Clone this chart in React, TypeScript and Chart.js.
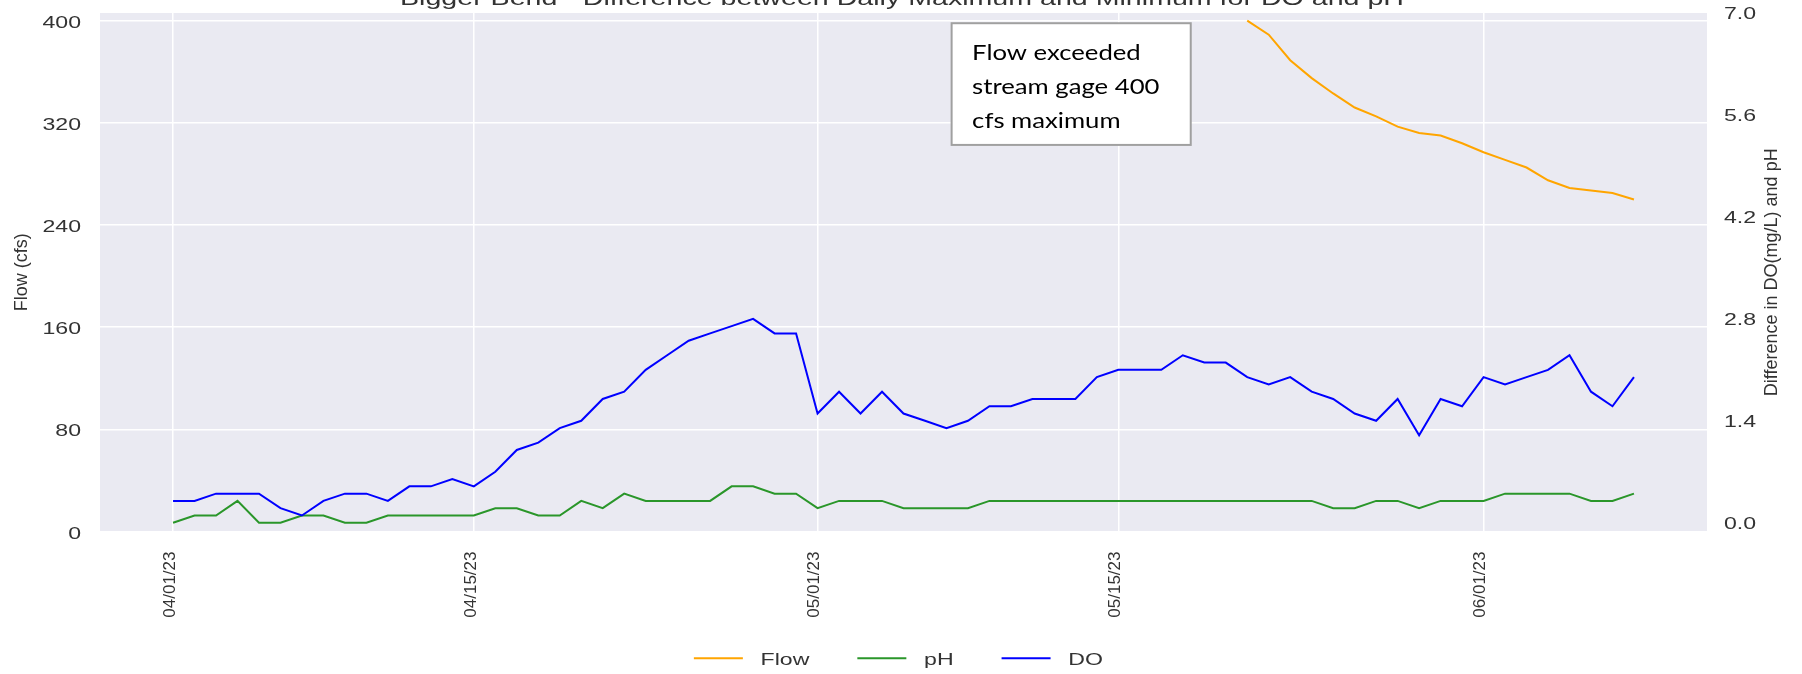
import React, { useEffect, useRef } from 'react';
import { Chart, registerables } from 'chart.js';

Chart.register(...registerables);

// ---------------- data ----------------
const TITLE = 'Bigger Bend - Difference between Daily Maximum and Minimum for DO and pH';
const FLOW_LABEL = 'Flow (cfs)';
const DIFF_LABEL = 'Difference in DO(mg/L) and pH';
const noteLines = ['Flow exceeded', 'stream gage 400', 'cfs maximum'];

const dates = [
  '04/01/23', '04/02/23', '04/03/23', '04/04/23', '04/05/23', '04/06/23', '04/07/23', '04/08/23', '04/09/23', '04/10/23',
  '04/11/23', '04/12/23', '04/13/23', '04/14/23', '04/15/23', '04/16/23', '04/17/23', '04/18/23', '04/19/23', '04/20/23',
  '04/21/23', '04/22/23', '04/23/23', '04/24/23', '04/25/23', '04/26/23', '04/27/23', '04/28/23', '04/29/23', '04/30/23',
  '05/01/23', '05/02/23', '05/03/23', '05/04/23', '05/05/23', '05/06/23', '05/07/23', '05/08/23', '05/09/23', '05/10/23',
  '05/11/23', '05/12/23', '05/13/23', '05/14/23', '05/15/23', '05/16/23', '05/17/23', '05/18/23', '05/19/23', '05/20/23',
  '05/21/23', '05/22/23', '05/23/23', '05/24/23', '05/25/23', '05/26/23', '05/27/23', '05/28/23', '05/29/23', '05/30/23',
  '05/31/23', '06/01/23', '06/02/23', '06/03/23', '06/04/23', '06/05/23', '06/06/23', '06/07/23', '06/08/23',
];

const tickDates = ['04/01/23', '04/15/23', '05/01/23', '05/15/23', '06/01/23'];

// flow above the 400 cfs gage maximum is missing
const flowValues = [
  null, null, null, null, null, null, null, null, null, null,
  null, null, null, null, null, null, null, null, null, null,
  null, null, null, null, null, null, null, null, null, null,
  null, null, null, null, null, null, null, null, null, null,
  null, null, null, null, null, null, null, null, null, null,
  400, 389, 369, 355, 343, 332, 325, 317, 312, 310,
  304, 297, 291, 285, 275, 269, 267, 265, 260,
];

const phValues = [
  0.0, 0.1, 0.1, 0.3, 0.0, 0.0, 0.1, 0.1, 0.0, 0.0,
  0.1, 0.1, 0.1, 0.1, 0.1, 0.2, 0.2, 0.1, 0.1, 0.3,
  0.2, 0.4, 0.3, 0.3, 0.3, 0.3, 0.5, 0.5, 0.4, 0.4,
  0.2, 0.3, 0.3, 0.3, 0.2, 0.2, 0.2, 0.2, 0.3, 0.3,
  0.3, 0.3, 0.3, 0.3, 0.3, 0.3, 0.3, 0.3, 0.3, 0.3,
  0.3, 0.3, 0.3, 0.3, 0.2, 0.2, 0.3, 0.3, 0.2, 0.3,
  0.3, 0.3, 0.4, 0.4, 0.4, 0.4, 0.3, 0.3, 0.4,
];

const doValues = [
  0.3, 0.3, 0.4, 0.4, 0.4, 0.2, 0.1, 0.3, 0.4, 0.4,
  0.3, 0.5, 0.5, 0.6, 0.5, 0.7, 1.0, 1.1, 1.3, 1.4,
  1.7, 1.8, 2.1, 2.3, 2.5, 2.6, 2.7, 2.8, 2.6, 2.6,
  1.5, 1.8, 1.5, 1.8, 1.5, 1.4, 1.3, 1.4, 1.6, 1.6,
  1.7, 1.7, 1.7, 2.0, 2.1, 2.1, 2.1, 2.3, 2.2, 2.2,
  2.0, 1.9, 2.0, 1.8, 1.7, 1.5, 1.4, 1.7, 1.2, 1.7,
  1.6, 2.0, 1.9, 2.0, 2.1, 2.3, 1.8, 1.6, 2.0,
];

const flowTicks = [0, 80, 160, 240, 320, 400];
const diffTicks = [0, 1.4, 2.8, 4.2, 5.6, 7.0];
const flowRange = [0, 406];
const diffRange = [-0.12, 7.0];

// annotation anchor (in data units: days since first date, flow cfs)
const noteBox = { fromDay: 36.24, toDay: 47.37, topFlow: 398, bottomFlow: 302.7 };

// ---------------- style ----------------
const W = 1802;
const H = 674;
const FONT = '"Liberation Sans", Arial, Helvetica, sans-serif';
const NOTE_FONT = 'Lato, "Open Sans", sans-serif';
const TEXT_COLOR = '#333333';
const PLOT_BG = '#EAEAF2';
const SX = 1.4; // horizontal stretch of upright text in the reference

const COLORS = { flow: '#FFA500', ph: '#2a962a', do: '#0000FF' };

function toDay(s: string): number {
  const [m, d, y] = s.split('/').map(Number);
  const [m0, d0, y0] = dates[0].split('/').map(Number);
  return Math.round((Date.UTC(2000 + y, m - 1, d) - Date.UTC(2000 + y0, m0 - 1, d0)) / 86400000);
}

function drawStretched(ctx: CanvasRenderingContext2D, text: string, x: number, y: number, align: CanvasTextAlign, sx: number) {
  ctx.save();
  ctx.translate(x, y);
  ctx.scale(sx, 1);
  ctx.textAlign = align;
  ctx.fillText(text, 0, 0);
  ctx.restore();
}

const bgPlugin = {
  id: 'plotBg',
  beforeDraw(chart: any) {
    const { ctx, chartArea: a } = chart;
    ctx.save();
    ctx.fillStyle = '#ffffff';
    ctx.fillRect(0, 0, chart.width, chart.height);
    ctx.fillStyle = PLOT_BG;
    ctx.fillRect(a.left, a.top, a.right - a.left, a.bottom - a.top);
    ctx.restore();
  },
};

const textPlugin = {
  id: 'refText',
  afterDraw(chart: any) {
    const ctx: CanvasRenderingContext2D = chart.ctx;
    const a = chart.chartArea;
    const xS = chart.scales.x;
    const yS = chart.scales.y;
    const y2S = chart.scales.y2;
    const midY = (a.top + a.bottom) / 2;
    ctx.save();
    ctx.fillStyle = TEXT_COLOR;
    ctx.textBaseline = 'alphabetic';

    // y tick labels
    ctx.font = `16.5px ${FONT}`;
    yS.ticks.forEach((t: any) => {
      drawStretched(ctx, String(t.value), a.left - 19, yS.getPixelForValue(t.value) + 7, 'right', SX);
    });
    y2S.ticks.forEach((t: any) => {
      drawStretched(ctx, Number(t.value).toFixed(1), a.right + 17, y2S.getPixelForValue(t.value) + 6, 'left', SX);
    });

    // axis titles (bottom-to-top)
    ctx.font = `18px ${FONT}`;
    ctx.textAlign = 'center';
    ctx.save();
    ctx.translate(a.left - 73.5, midY);
    ctx.rotate(-Math.PI / 2);
    ctx.fillText(FLOW_LABEL, 0, 0);
    ctx.restore();
    ctx.save();
    ctx.translate(a.right + 69.5, midY);
    ctx.rotate(-Math.PI / 2);
    ctx.fillText(DIFF_LABEL, 0, 0);
    ctx.restore();

    // title (cut off by the top of the picture)
    ctx.font = `19.5px ${FONT}`;
    const tw = ctx.measureText(TITLE).width;
    drawStretched(ctx, TITLE, (a.left + a.right) / 2 - 1.5, 5, 'center', 1004 / tw);

    // legend
    ctx.font = `16.5px ${FONT}`;
    const lineLen = 49;
    const gap = 17.7;
    const itemGap = 48;
    const items = chart.data.datasets.map((ds: any) => ({
      label: ds.label,
      color: ds.borderColor,
      w: ctx.measureText(ds.label).width * SX,
    }));
    const total = items.reduce((s: number, it: any) => s + lineLen + gap + it.w, 0) + itemGap * (items.length - 1);
    let cx = 898.4 - total / 2;
    const ly = a.bottom + 126.8;
    items.forEach((it: any) => {
      ctx.strokeStyle = it.color;
      ctx.lineWidth = 2;
      ctx.beginPath();
      ctx.moveTo(cx, ly);
      ctx.lineTo(cx + lineLen, ly);
      ctx.stroke();
      ctx.fillStyle = TEXT_COLOR;
      drawStretched(ctx, it.label, cx + lineLen + gap, ly + 6.7, 'left', SX);
      cx += lineLen + gap + it.w + itemGap;
    });

    // annotation box
    const bx0 = xS.getPixelForValue(noteBox.fromDay);
    const bx1 = xS.getPixelForValue(noteBox.toDay);
    const by0 = yS.getPixelForValue(noteBox.topFlow);
    const by1 = yS.getPixelForValue(noteBox.bottomFlow);
    ctx.fillStyle = '#ffffff';
    ctx.fillRect(bx0, by0, bx1 - bx0, by1 - by0);
    ctx.strokeStyle = '#a0a0a0';
    ctx.lineWidth = 2;
    ctx.strokeRect(bx0, by0, bx1 - bx0, by1 - by0);
    ctx.fillStyle = '#000000';
    ctx.font = `21px ${NOTE_FONT}`;
    const nsx = 168.6 / ctx.measureText(noteLines[0]).width;
    noteLines.forEach((line, i) => {
      drawStretched(ctx, line, bx0 + 20.5, by0 + 36.7 + i * 34, 'left', nsx);
    });

    ctx.restore();
  },
};

export default function App() {
  const ref = useRef<HTMLCanvasElement | null>(null);

  useEffect(() => {
    document.body.style.margin = '0';
    const canvas = ref.current;
    if (!canvas) return;
    const days = dates.map(toDay);
    const span = days[days.length - 1] - days[0];
    const tickDays = tickDates.map(toDay);
    const mk = (vals: (number | null)[]) => vals.map((v, i) => ({ x: days[i], y: v }));

    const chart = new Chart(canvas, {
      type: 'line',
      data: {
        datasets: [
          { label: 'Flow', data: mk(flowValues), yAxisID: 'y', borderColor: COLORS.flow, backgroundColor: COLORS.flow, borderWidth: 2, pointRadius: 0, tension: 0, order: 3 },
          { label: 'pH', data: mk(phValues), yAxisID: 'y2', borderColor: COLORS.ph, backgroundColor: COLORS.ph, borderWidth: 2, pointRadius: 0, tension: 0, order: 2 },
          { label: 'DO', data: mk(doValues), yAxisID: 'y2', borderColor: COLORS.do, backgroundColor: COLORS.do, borderWidth: 2, pointRadius: 0, tension: 0, order: 1 },
        ],
      } as any,
      options: {
        animation: false,
        responsive: false,
        devicePixelRatio: 1,
        events: [],
        layout: { padding: { top: 13, left: 0, right: 0, bottom: 0 } },
        plugins: { legend: { display: false }, title: { display: false }, tooltip: { enabled: false } },
        scales: {
          x: {
            type: 'linear',
            min: days[0] - 0.05 * span,
            max: days[days.length - 1] + 0.05 * span,
            afterBuildTicks: (s: any) => { s.ticks = tickDays.map((v) => ({ value: v })); },
            afterFit: (s: any) => { s.height = H - 531.5; },
            ticks: {
              autoSkip: false,
              minRotation: 90,
              maxRotation: 90,
              padding: 20,
              labelOffset: -3,
              color: TEXT_COLOR,
              font: { family: FONT, size: 17 },
              callback: (_v: any, i: number) => tickDates[i],
            },
            grid: { color: '#ffffff', lineWidth: 1.5, drawTicks: false },
            border: { display: false },
          },
          y: {
            type: 'linear',
            position: 'left',
            min: flowRange[0],
            max: flowRange[1],
            afterBuildTicks: (s: any) => { s.ticks = flowTicks.map((v) => ({ value: v })); },
            afterFit: (s: any) => { s.width = 100; },
            ticks: { display: false },
            grid: { color: '#ffffff', lineWidth: 1.5, drawTicks: false },
            border: { display: false },
          },
          y2: {
            type: 'linear',
            position: 'right',
            min: diffRange[0],
            max: diffRange[1],
            afterBuildTicks: (s: any) => { s.ticks = diffTicks.map((v) => ({ value: v })); },
            afterFit: (s: any) => { s.width = W - 1707; },
            ticks: { display: false },
            grid: { display: false, drawTicks: false },
            border: { display: false },
          },
        },
      } as any,
      plugins: [bgPlugin, textPlugin],
    });

    let alive = true;
    if ((document as any).fonts && (document as any).fonts.load) {
      Promise.all([
        (document as any).fonts.load(`21px Lato`),
        (document as any).fonts.load(`16px "Liberation Sans"`),
      ]).then(() => { if (alive) chart.draw(); }).catch(() => {});
    }

    return () => {
      alive = false;
      chart.destroy();
    };
  }, []);

  return (
    <div style={{ width: W, height: H }}>
      <canvas ref={ref} width={W} height={H} style={{ display: 'block', width: W, height: H }} />
    </div>
  );
}
